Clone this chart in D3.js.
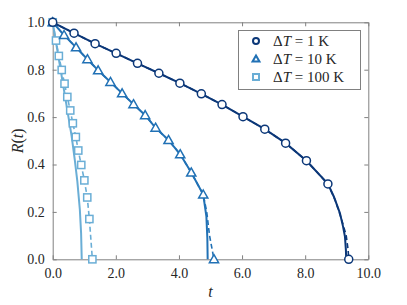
<!DOCTYPE html>
<html>
<head>
<meta charset="utf-8">
<script src="https://cdn.jsdelivr.net/npm/d3@7"></script>
<style>
  body { margin: 0; background: #fff; }
  svg { display: block; }
  svg text { font-family: "Liberation Serif", "DejaVu Serif", "Noto Serif", "Tinos", "Times New Roman", Times, "FreeSerif", serif !important; fill: #262626; }
</style>
</head>
<body>
<svg width="407" height="305"></svg>
<script>
// --- data ---
// dT = 1 K
const tMark1 = [0, 0.676, 1.343, 2.01, 2.686, 3.365, 4.03, 4.71, 5.365, 6.03, 6.72, 7.38, 8.04, 8.72, 9.38]
const rMark1 = [1, 0.954, 0.910, 0.869, 0.827, 0.785, 0.743, 0.698, 0.653, 0.602, 0.549, 0.490, 0.416, 0.318, 0]
const tTail1 = [8.95, 9.15, 9.3, 9.36]
const rTail1 = [0.25, 0.17, 0.10, 0.04]
const tModel1 = [0, 0.676, 1.343, 2.01, 2.686, 3.365, 4.03, 4.71, 5.365, 6.03, 6.72, 7.38, 8.04, 8.72, 8.91, 9.10, 9.20, 9.26, 9.29, 9.30]
const rModel1 = [1, 0.954, 0.910, 0.869, 0.827, 0.785, 0.743, 0.698, 0.653, 0.602, 0.549, 0.490, 0.416, 0.318, 0.264, 0.195, 0.138, 0.096, 0.04, 0]

// dT = 10 K
const tMark2 = [0, 0.36, 0.74, 1.10, 1.44, 1.83, 2.20, 2.56, 2.93, 3.26, 3.67, 4.04, 4.39, 4.77, 5.11]
const rMark2 = [1, 0.946, 0.894, 0.844, 0.797, 0.748, 0.700, 0.654, 0.608, 0.555, 0.503, 0.443, 0.366, 0.273, 0]
const tTail2 = [4.88, 4.97, 5.04]
const rTail2 = [0.20, 0.10, 0.05]
const tModel2 = [0, 0.36, 0.74, 1.10, 1.44, 1.83, 2.20, 2.56, 2.93, 3.26, 3.67, 4.04, 4.39, 4.77, 4.87, 4.90, 4.91]
const rModel2 = [1, 0.946, 0.894, 0.844, 0.797, 0.748, 0.700, 0.654, 0.608, 0.555, 0.503, 0.443, 0.366, 0.273, 0.18, 0.09, 0]

// dT = 100 K
const tMark3 = [0, 0.105, 0.194, 0.286, 0.375, 0.463, 0.556, 0.638, 0.733, 0.81, 0.905, 1.003, 1.095, 1.162, 1.257]
const rMark3 = [1, 0.923, 0.858, 0.799, 0.741, 0.685, 0.628, 0.574, 0.516, 0.459, 0.398, 0.333, 0.261, 0.170, 0]
const tTail3 = []
const rTail3 = []
const tModel3 = [0, 0.1, 0.2, 0.3, 0.4, 0.5, 0.6, 0.7, 0.78, 0.86, 0.9, 0.92]
const rModel3 = [1, 0.92, 0.84, 0.76, 0.68, 0.60, 0.52, 0.42, 0.33, 0.21, 0.11, 0]

const xTicks = [0, 2, 4, 6, 8, 10]
const yTicks = [0, 0.2, 0.4, 0.6, 0.8, 1.0]
const legendLabels = ["1 K", "10 K", "100 K"]

// --- drawing ---
const svg = d3.select("svg")
const padL = 52.7, padR = 368.3, padT = 22.3, padB = 259.3
const x = d3.scaleLinear().domain([0, 10]).range([padL, padR])
const y = d3.scaleLinear().domain([0, 1]).range([padB, padT])
const axisCol = "#808080"

const zip = (a, b) => a.map((v, i) => [v, b[i]])

// axes (box with inner ticks)
const gx = svg.append("g").attr("transform", `translate(0,${padB})`)
  .call(d3.axisBottom(x).tickValues(xTicks).tickFormat(d3.format(".1f")).tickSizeInner(-4).tickSizeOuter(0).tickPadding(9))
const gxTop = svg.append("g").attr("transform", `translate(0,${padT})`)
  .call(d3.axisTop(x).tickValues(xTicks).tickFormat("").tickSizeInner(-4).tickSizeOuter(0))
const gy = svg.append("g").attr("transform", `translate(${padL},0)`)
  .call(d3.axisLeft(y).tickValues(yTicks).tickFormat(d3.format(".1f")).tickSizeInner(-4).tickSizeOuter(0).tickPadding(8))
const gyRight = svg.append("g").attr("transform", `translate(${padR},0)`)
  .call(d3.axisRight(y).tickValues(yTicks).tickFormat("").tickSizeInner(-4).tickSizeOuter(0))

for (const g of [gx, gxTop, gy, gyRight]) {
  g.attr("font-family", null).attr("font-size", 14)
  g.select(".domain").attr("stroke", axisCol)
  g.selectAll(".tick line").attr("stroke", axisCol)
  g.selectAll("text").style("font-size", "14px").attr("fill", "#262626")
}

// axis labels
svg.append("text").attr("x", (padL + padR) / 2).attr("y", 297).attr("text-anchor", "middle")
  .style("font-size", "16px").style("font-style", "italic").text("t")
const yl = svg.append("text").attr("transform", `translate(23,${(padT + padB) / 2}) rotate(-90)`)
  .attr("text-anchor", "middle").style("font-size", "16px")
yl.append("tspan").style("font-style", "italic").text("R")
yl.append("tspan").text("(")
yl.append("tspan").style("font-style", "italic").text("t")
yl.append("tspan").text(")")

const line = d3.line().x(d => x(d[0])).y(d => y(d[1]))

const series = [
  { col: "#6aaed6", shape: "square", tm: tMark3, rm: rMark3, tt: tTail3, rt: rTail3, tmod: tModel3, rmod: rModel3 },
  { col: "#2171b5", shape: "triangle", tm: tMark2, rm: rMark2, tt: tTail2, rt: rTail2, tmod: tModel2, rmod: rModel2 },
  { col: "#0b3778", shape: "circle", tm: tMark1, rm: rMark1, tt: tTail1, rt: rTail1, tmod: tModel1, rmod: rModel1 }
]

function marker(g, shape, cx, cy, col, s, sw) {
  if (shape == "circle") {
    g.append("circle").attr("cx", cx).attr("cy", cy).attr("r", s)
      .attr("fill", "#fff").attr("stroke", col).attr("stroke-width", sw)
  } else if (shape == "square") {
    g.append("rect").attr("x", cx - s).attr("y", cy - s).attr("width", 2 * s).attr("height", 2 * s)
      .attr("fill", "#fff").attr("stroke", col).attr("stroke-width", sw)
  } else {
    const h = s * 1.15
    g.append("path").attr("d", `M${cx},${cy - h}L${cx + h},${cy + h * 0.75}L${cx - h},${cy + h * 0.75}Z`)
      .attr("fill", "#fff").attr("stroke", col).attr("stroke-width", sw).attr("stroke-linejoin", "miter")
  }
}

series.forEach(s => {
  const g = svg.append("g")
  g.append("path").attr("d", line(zip(s.tmod, s.rmod)))
    .attr("fill", "none").attr("stroke", s.col).attr("stroke-width", 2)
  // simulation: dashed line through markers plus a few tail points
  const sim = zip(s.tm, s.rm).slice(0, -1).concat(zip(s.tt, s.rt), [[s.tm[s.tm.length - 1], 0]])
  g.append("path").attr("d", line(sim))
    .attr("fill", "none").attr("stroke", s.col).attr("stroke-width", 1.6).attr("stroke-dasharray", "5,3")
  s.tm.forEach((t, i) => marker(g, s.shape, x(t), y(s.rm[i]), s.col, s.shape == "square" ? 3.6 : 4, 1.5))
})

// legend
const lg = svg.append("g")
lg.append("rect").attr("x", 238.5).attr("y", 30.5).attr("width", 122).attr("height", 59)
  .attr("fill", "#fff").attr("stroke", axisCol)
const legOrder = [series[2], series[1], series[0]]
legOrder.forEach((s, i) => {
  const cy = 41 + i * 18
  marker(lg, s.shape, 256, cy, s.col, 3, 2)
  const tx = lg.append("text").attr("x", 273).attr("y", cy + 5).style("font-size", "15px")
  tx.append("tspan").text("Δ")
  tx.append("tspan").style("font-style", "italic").text("T")
  tx.append("tspan").text(" = " + legendLabels[i])
})
</script>
</body>
</html>
